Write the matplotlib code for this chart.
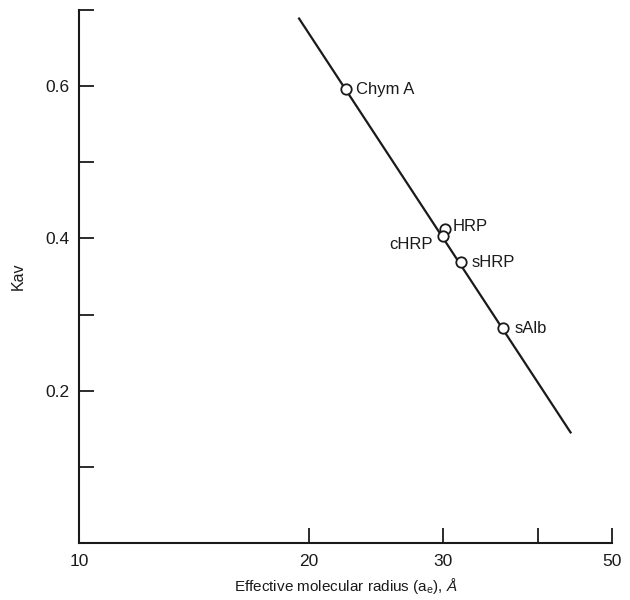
import matplotlib
matplotlib.use("Agg")
import matplotlib.pyplot as plt
from matplotlib.ticker import FixedLocator, NullLocator

plt.rcParams['font.family'] = ['Liberation Sans', 'DejaVu Sans']
plt.rcParams['mathtext.fontset'] = 'custom'
plt.rcParams['mathtext.rm'] = 'Liberation Sans'
plt.rcParams['mathtext.it'] = 'Liberation Sans:italic'

# Data
proteins = ["Chym A", "HRP", "cHRP", "sHRP", "sAlb"]
radius = [22.4, 30.2, 30.0, 31.7, 36.0]
kav = [0.596, 0.413, 0.403, 0.369, 0.282]
fit_x = [19.4, 44.2]
fit_y = [0.690, 0.144]

x_ticks = [10, 20, 30, 40, 50]
x_ticklabels = ["10", "20", "30", "", "50"]
y_ticks = [0.1, 0.2, 0.3, 0.4, 0.5, 0.6, 0.7]
y_ticklabels = ["", "0.2", "", "0.4", "", "0.6", ""]

# label offsets in pixels (dx, dy up-positive) and alignment
offsets = [(10, 0, 'left'), (8, 2, 'left'), (-10, -8, 'right'), (11, 0, 'left'), (11, 0, 'left')]

fig = plt.figure(figsize=(6.3, 6.0), dpi=100)
ax = fig.add_axes([79/630, 1-543/600, (612-79)/630, 533/600])

ax.plot(fit_x, fit_y, color='#1a1a1a', lw=1.6, zorder=2, solid_capstyle='butt')
ax.plot(radius, kav, linestyle='none', marker='o', ms=7.5, mfc='white',
        mec='#1a1a1a', mew=1.3, zorder=3)

for name, x, y, (dx, dy, ha) in zip(proteins, radius, kav, offsets):
    ax.annotate(name, (x, y), xytext=(dx, dy), textcoords='offset pixels',
                ha=ha, va='center', fontsize=12, color='#1a1a1a')

ax.set_xscale('log')
ax.set_xlim(10, 50)
ax.set_ylim(0, 0.7)
ax.xaxis.set_major_locator(FixedLocator(x_ticks))
ax.xaxis.set_minor_locator(NullLocator())
ax.set_xticklabels(x_ticklabels)
ax.set_yticks(y_ticks)
ax.set_yticklabels(y_ticklabels)

for s in ['top', 'right']:
    ax.spines[s].set_visible(False)
for s in ['left', 'bottom']:
    ax.spines[s].set_linewidth(1.5)
    ax.spines[s].set_color('#1a1a1a')

ax.tick_params(axis='both', direction='in', length=11, width=1.3,
               color='#1a1a1a', labelsize=12.5, labelcolor='#1a1a1a')
ax.tick_params(axis='x', pad=8)
ax.tick_params(axis='y', pad=7)

ax.set_xlabel(r'Effective molecular radius (a$_{\mathrm{e}}$), $\mathit{Å}$',
              fontsize=11, labelpad=5, color='#1a1a1a')
ax.set_ylabel('Kav', fontsize=11.5, labelpad=14, color='#1a1a1a')

fig.savefig('out.png', dpi=100)
